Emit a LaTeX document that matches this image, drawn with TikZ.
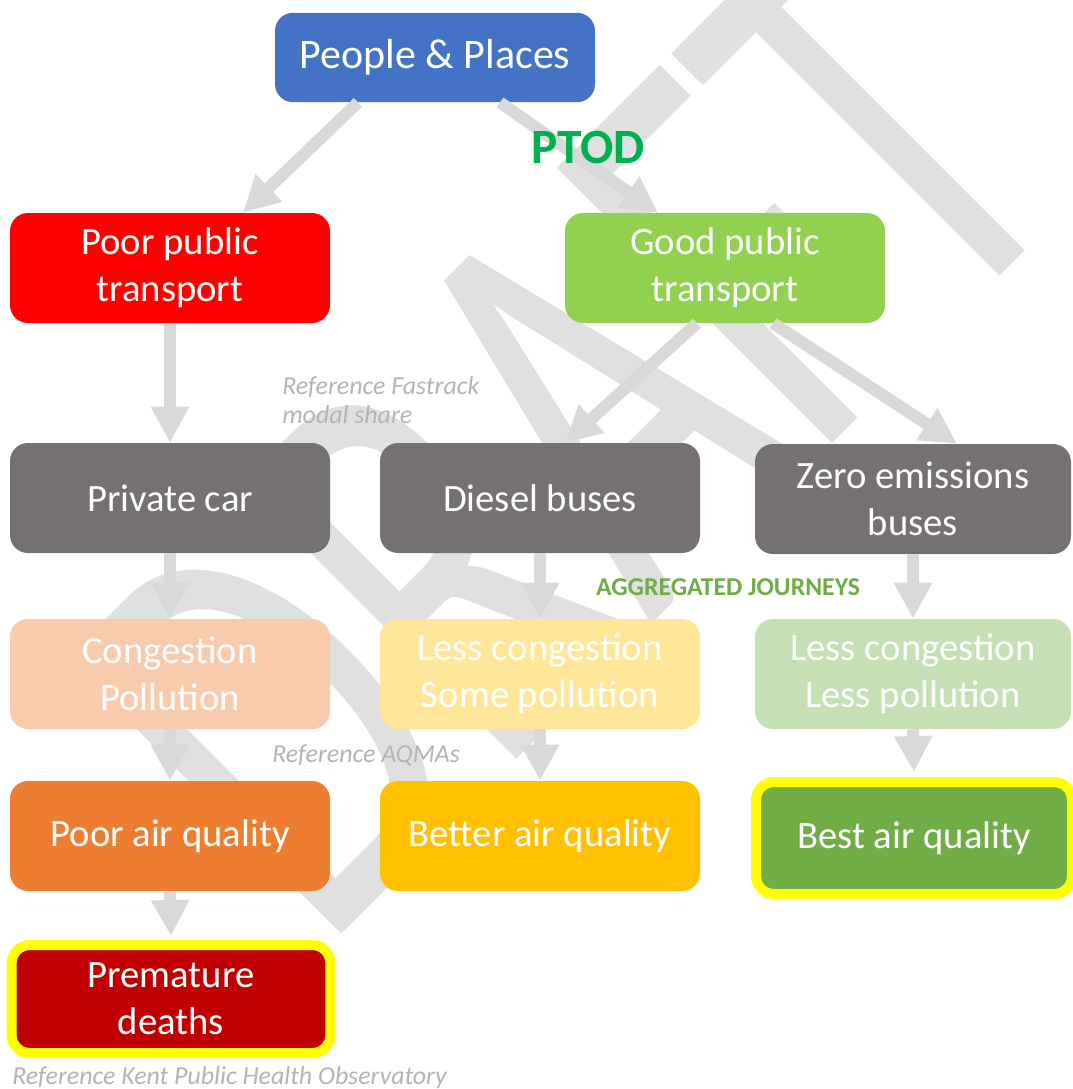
\documentclass[tikz,border=0pt]{standalone}
\usepackage{fontspec}
\setmainfont{Carlito}
\usetikzlibrary{arrows.meta,calc}
\definecolor{ppblue}{HTML}{4472C4}
\definecolor{poorred}{HTML}{FF0000}
\definecolor{goodgreen}{HTML}{92D050}
\definecolor{darkgray}{HTML}{767171}
\definecolor{congpeach}{HTML}{F8CBAD}
\definecolor{somegold}{HTML}{FFE699}
\definecolor{lessgreen}{HTML}{C5E0B4}
\definecolor{poorair}{HTML}{ED7D31}
\definecolor{betterair}{HTML}{FFC000}
\definecolor{bestair}{HTML}{70AD47}
\definecolor{deathred}{HTML}{C00000}
\definecolor{hiyellow}{HTML}{FFFF00}
\definecolor{ptodgreen}{HTML}{00B050}
\definecolor{agggreen}{HTML}{70AD47}
\definecolor{refgray}{HTML}{B4B4B4}
\definecolor{arrowgray}{HTML}{D9D9D9}
\definecolor{wmgray}{HTML}{E0E0E0}
\begin{document}
\begin{tikzpicture}[x=0.75pt,y=-0.75pt,
  box/.style={rectangle, rounded corners=13.5pt, minimum width=240pt, minimum height=82.5pt,
    text=white, align=center, font=\fontsize{29}{35}\selectfont, inner sep=0pt},
  hibox/.style={box, draw=hiyellow, line width=7.5pt},
  flow/.style={draw=arrowgray, line width=9pt, -{Triangle[width=27pt,length=27pt]}},
  refnote/.style={text=refgray, font=\fontsize{19.4}{22}\selectfont\itshape, anchor=west, align=left, inner sep=0pt}
]
\useasboundingbox (0,0) rectangle (1072,1089);

% watermark
\node[rotate=45, anchor=base west, inner sep=0pt, text=wmgray] (wm) at (322,954)
  {\scalebox{0.66}[1]{\fontsize{455}{455}\selectfont DRAFT}};

% boxes
\node[box, fill=ppblue, minimum height=67pt, font=\fontsize{31.5}{36}\selectfont] (pp) at (435,57.5) {People \& Places};
\node[box, fill=poorred] (ppt) at (170,268) {Poor public\\transport};
\node[box, fill=goodgreen] (gpt) at (725,268) {Good public\\transport};
\node[box, fill=darkgray] (car) at (170,498) {Private car};
\node[box, fill=darkgray] (diesel) at (540,498) {Diesel buses};
\node[box, fill=darkgray, minimum width=237pt] (zero) at (913,499) {Zero emissions\\buses};
\node[box, fill=congpeach] (cong) at (170,674) {Congestion\\Pollution};
\node[box, fill=somegold] (some) at (540,674) {Less congestion\\Some pollution};
\node[box, fill=lessgreen, minimum width=237pt] (less) at (913,674) {Less congestion\\Less pollution};
\node[box, fill=poorair] (pair) at (170,836) {Poor air quality};
\node[box, fill=betterair] (bair) at (540,836) {Better air quality};
\node[hibox, fill=bestair, minimum width=237pt, minimum height=84pt] (best) at (914,838) {Best air quality};
\node[hibox, fill=deathred, minimum width=239pt, minimum height=81pt] (prem) at (171,999) {Premature\\deaths};

% connectors
\draw[flow] ($(pp.south)+(-77,0)$) -- ($(ppt.north)+(73,0)$);
\draw[flow] ($(pp.south)+(65,0)$) -- ($(gpt.north)+(-67,0)$);
\draw[flow] (ppt.south) -- (car.north);
\draw[flow] ($(gpt.south)+(-28,0)$) -- ($(diesel.north)+(25,0)$);
\draw[flow] ($(gpt.south)+(48,0)$) -- ($(zero.north)+(44,0)$);
\draw[flow] (car.south) -- (cong.north);
\draw[flow] (diesel.south) -- (some.north);
\draw[flow] (zero.south) -- (less.north);
\draw[flow] (cong.south) -- (pair.north);
\draw[flow] (some.south) -- (bair.north);
\draw[flow] (less.south) -- ($(best.north)+(0,-5)$);
\draw[flow] (pair.south) -- ($(prem.north)+(0,-4)$);

% labels
\node[text=ptodgreen, font=\fontsize{37}{42}\selectfont\bfseries, inner sep=0pt] (ptod) at (588,147) {PTOD};
\node[text=agggreen, font=\fontsize{19.3}{22}\selectfont\bfseries, inner sep=0pt] (agg) at (728,587) {AGGREGATED JOURNEYS};
\node[refnote] (ref1) at (282,400) {Reference Fastrack\\modal share};
\node[refnote] (ref2) at (272,755) {Reference AQMAs};
\node[refnote] (ref3) at (12,1078) {Reference Kent Public Health Observatory};
\end{tikzpicture}
\end{document}
